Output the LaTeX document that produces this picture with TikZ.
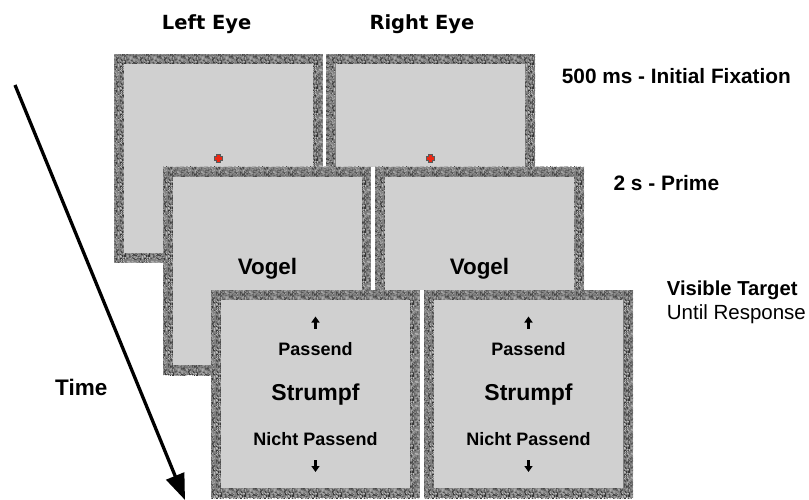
\documentclass[tikz,border=0pt]{standalone}
\usepackage{fontspec}
\setmainfont{Liberation Sans}
\newfontfamily\headfont{DejaVu Sans}
\usetikzlibrary{arrows.meta,patterns}

\definecolor{edgegray}{RGB}{128,128,128}
\definecolor{screengray}{RGB}{208,208,208}
\definecolor{fixred}{RGB}{235,40,20}

% speckle tiles for the noise border
\pgfdeclarepatternformonly{noisedark}{\pgfqpoint{0pt}{0pt}}{\pgfqpoint{24pt}{24pt}}{\pgfqpoint{24pt}{24pt}}{%
  \pgfmathsetseed{11}%
  \foreach \k in {1,...,200}{%
    \pgfmathsetmacro\nx{floor(rnd*24)}%
    \pgfmathsetmacro\ny{floor(rnd*24)}%
    \pgfpathrectangle{\pgfpoint{\nx pt}{\ny pt}}{\pgfqpoint{1pt}{1pt}}%
    \pgfusepath{fill}%
  }%
}
\pgfdeclarepatternformonly{noiselight}{\pgfqpoint{0pt}{0pt}}{\pgfqpoint{24pt}{24pt}}{\pgfqpoint{24pt}{24pt}}{%
  \pgfmathsetseed{29}%
  \foreach \k in {1,...,150}{%
    \pgfmathsetmacro\nx{floor(rnd*24)}%
    \pgfmathsetmacro\ny{floor(rnd*24)}%
    \pgfpathrectangle{\pgfpoint{\nx pt}{\ny pt}}{\pgfqpoint{1pt}{1pt}}%
    \pgfusepath{fill}%
  }%
}

\begin{document}
\begin{tikzpicture}[x=1pt, y=-1pt, line cap=round, line join=round,
  eyelabel/.style={inner sep=0pt, anchor=base west, font=\headfont\bfseries\fontsize{19.5}{22}\selectfont},
  steplabel/.style={inner sep=0pt, anchor=base west, font=\bfseries\fontsize{#1}{24}\selectfont},
  word/.style={inner sep=0pt, anchor=base, font=\bfseries\fontsize{#1}{24}\selectfont},
  keyarrow/.style={line width=2.4pt, line cap=butt, -{Triangle[length=6pt,width=8pt]}},
  timearrow/.style={line width=3.3pt, line cap=butt, -{Triangle[length=26pt,width=19pt]}}]
  \useasboundingbox (0,0) rectangle (809,500);
  % --- noise-bordered screens (left eye / right eye) ---
  \foreach \fx/\fy/\gap/\fn in {114/54.5/0/fixL, 326/54.5/3.5/fixR, 163/167/0/primeL,
                                375/167/4/primeR, 211/290/0/targL, 424/290/4/targR}{
    \fill[white] (\fx-\gap,\fy) rectangle (\fx,\fy+208);
    \fill[edgegray] (\fx,\fy) rectangle ++(209,208);
    \fill[pattern=noisedark, pattern color=black!78] (\fx,\fy) rectangle ++(209,208);
    \fill[pattern=noiselight, pattern color=white!72!black] (\fx,\fy) rectangle ++(209,208);
    \fill[screengray] (\fx+10,\fy+10) rectangle ++(189,188);
    \coordinate (\fn) at (\fx+104.5,\fy+104);
  }
  % --- fixation crosses ---
  \foreach \c in {fixL,fixR}{
    \draw[line width=5.4pt, line cap=butt, black!65] (\c) +(-4.4,0) -- +(4.4,0) (\c) +(0,-4.4) -- +(0,4.4);
    \draw[line width=3.2pt, line cap=butt, fixred] (\c) +(-3.3,0) -- +(3.3,0) (\c) +(0,-3.3) -- +(0,3.3);
  }
  % --- prime words ---
  \node[word=22.4] (vogelL) at ([yshift=-3pt]primeL) {Vogel};
  \node[word=22.4] (vogelR) at ([yshift=-3pt]primeR) {Vogel};
  % --- target screens ---
  \foreach \t in {targL,targR}{
    \node[word=18] (\t-pass) at ([yshift=38.3pt]\t) {Passend};
    \node[word=23] (\t-word) at ([yshift=-6.7pt]\t) {Strumpf};
    \node[word=18] (\t-nopass) at ([yshift=-51pt]\t) {Nicht Passend};
    \coordinate (\t-upfoot) at ([yshift=65.5pt]\t);
    \coordinate (\t-uptip) at ([yshift=77.5pt]\t);
    \coordinate (\t-downfoot) at ([yshift=-66pt]\t);
    \coordinate (\t-downtip) at ([yshift=-78pt]\t);
    \draw[keyarrow] (\t-upfoot) -- (\t-uptip);
    \draw[keyarrow] (\t-downfoot) -- (\t-downtip);
  }
  % --- labels ---
  \node[eyelabel] (lefteye) at (161.7,29.3) {Left Eye};
  \node[eyelabel] (righteye) at (369.3,29.3) {Right Eye};
  \node[steplabel=20.8] (fixtext) at (561.7,83.3) {500 ms - Initial Fixation};
  \node[steplabel=20.9] (primetext) at (613.3,190.7) {2 s - Prime};
  \node[steplabel=20.2] (targtext) at (666.7,295) {Visible Target};
  \node[inner sep=0pt, anchor=base west, font=\fontsize{20.5}{24}\selectfont] (resptext) at (666.7,319) {Until Response};
  \node[steplabel=22.5] (timetext) at (55,395) {Time};
  % --- time arrow ---
  \coordinate (tstart) at (15,85);
  \coordinate (tend) at (185,500);
  \draw[timearrow] (tstart) -- (tend);
\end{tikzpicture}
\end{document}
